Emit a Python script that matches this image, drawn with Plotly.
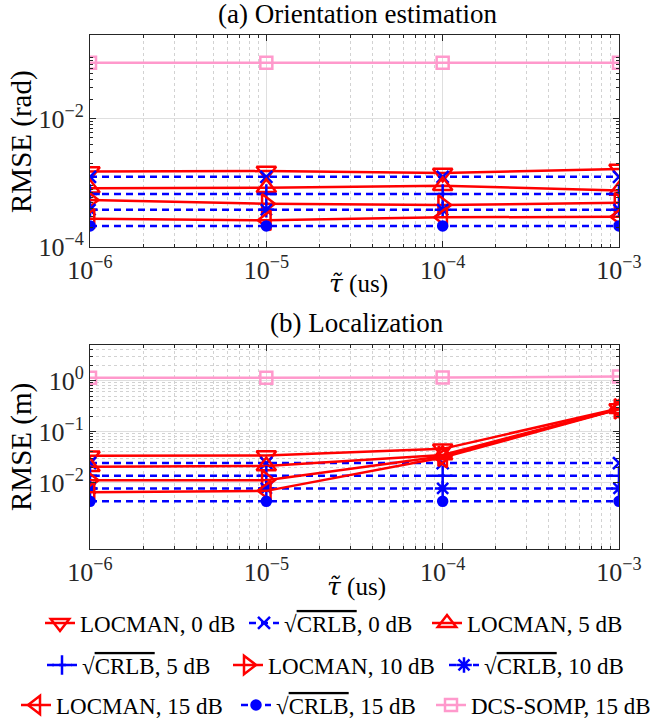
import plotly.graph_objects as go

# Delay spread values (x axis)
tau = [1e-6, 1e-5, 1e-4, 1e-3]
tau_ticks = ["10<sup>−6</sup>", "10<sup>−5</sup>", "10<sup>−4</sup>", "10<sup>−3</sup>"]

# (a) Orientation RMSE (rad)
ori_locman_0 = [1.50e-3, 1.52e-3, 1.42e-3, 1.64e-3]
ori_crlb_0 = [1.24e-3, 1.24e-3, 1.24e-3, 1.24e-3]
ori_locman_5 = [8.2e-4, 8.4e-4, 9.0e-4, 7.6e-4]
ori_crlb_5 = [6.7e-4, 6.7e-4, 6.7e-4, 6.7e-4]
ori_locman_10 = [5.4e-4, 4.7e-4, 4.5e-4, 4.9e-4]
ori_crlb_10 = [3.8e-4, 3.8e-4, 3.8e-4, 3.8e-4]
ori_locman_15 = [2.75e-4, 2.6e-4, 2.9e-4, 2.95e-4]
ori_crlb_15 = [2.13e-4, 2.13e-4, 2.13e-4, 2.13e-4]
ori_dcs_15 = [0.074, 0.074, 0.074, 0.074]

# (b) Localization RMSE (m)
loc_locman_0 = [0.0335, 0.034, 0.046, 0.285]
loc_crlb_0 = [0.0242, 0.0242, 0.0242, 0.0242]
loc_locman_5 = [0.0206, 0.0212, 0.035, 0.28]
loc_crlb_5 = [0.0136, 0.0136, 0.0136, 0.0136]
loc_locman_10 = [0.0111, 0.0112, 0.033, 0.28]
loc_crlb_10 = [0.0077, 0.0077, 0.0077, 0.0077]
loc_locman_15 = [0.0065, 0.0069, 0.031, 0.275]
loc_crlb_15 = [0.0043, 0.0043, 0.0043, 0.0043]
loc_dcs_15 = [1.14, 1.14, 1.15, 1.2]

RED = "rgb(255,0,0)"
BLUE = "rgb(0,0,255)"
PINK = "rgb(255,153,204)"
SQRT_CRLB = "√<span style='text-decoration:overline'>CRLB</span>"
FONT = "Liberation Serif"
TAU = "<span style='font-family:DejaVu Serif'><i>τ̃</i></span>"

W, H = 655, 727
def px_x(v):
    return v / W
def px_y(v):
    return 1 - v / H

# name, ori, loc, colour, dash, symbol, size, legend slot (left px, row centre px)
series = [
    ("LOCMAN, 0 dB", ori_locman_0, loc_locman_0, RED, "solid", "triangle-down-open", 17, (45, 623)),
    (SQRT_CRLB + ", 0 dB", ori_crlb_0, loc_crlb_0, BLUE, "dash", "x-thin-open", 12, (249, 623)),
    ("LOCMAN, 5 dB", ori_locman_5, loc_locman_5, RED, "solid", "triangle-up-open", 17, (432, 623)),
    (SQRT_CRLB + ", 5 dB", ori_crlb_5, loc_crlb_5, BLUE, "dash", "cross-thin-open", 14, (47, 665)),
    ("LOCMAN, 10 dB", ori_locman_10, loc_locman_10, RED, "solid", "triangle-right-open", 17, (233, 665)),
    (SQRT_CRLB + ", 10 dB", ori_crlb_10, loc_crlb_10, BLUE, "dash", "asterisk-open", 13, (449, 665)),
    ("LOCMAN, 15 dB", ori_locman_15, loc_locman_15, RED, "solid", "triangle-left-open", 17, (21, 705)),
    (SQRT_CRLB + ", 15 dB", ori_crlb_15, loc_crlb_15, BLUE, "dash", "circle", 9, (241, 705)),
    ("DCS-SOMP, 15 dB", ori_dcs_15, loc_dcs_15, PINK, "solid", "square-open", 12, (436, 705)),
]

fig = go.Figure()
legends = {}
for i, (name, ori, loc, col, dash, sym, size, slot) in enumerate(series):
    leg = "legend" if i == 0 else f"legend{i + 1}"
    line = dict(color=col, width=2.5, dash="7px,5px" if dash == "dash" else "solid")
    marker = dict(symbol=sym, size=size, color=col, line=dict(color=col, width=2.5))
    fig.add_trace(go.Scatter(x=tau, y=ori, name=name, mode="lines+markers", line=line,
                             marker=marker, xaxis="x", yaxis="y", legend=leg, showlegend=True))
    fig.add_trace(go.Scatter(x=tau, y=loc, name=name, mode="lines+markers", line=line,
                             marker=marker, xaxis="x2", yaxis="y2", showlegend=False))
    legends[leg] = dict(orientation="h", xanchor="left", x=px_x(slot[0] - 5),
                        yanchor="middle", y=px_y(slot[1]), borderwidth=0,
                        bgcolor="rgba(0,0,0,0)", itemwidth=30,
                        font=dict(family=FONT, size=23, color="black"))

x_minor = [m * 10 ** e for e in (-6, -5, -4) for m in range(2, 10)]
axis_common = dict(
    type="log", automargin=False, showline=True, linecolor="rgb(38,38,38)", linewidth=1,
    mirror="ticks", ticks="inside", ticklen=6, tickcolor="rgb(38,38,38)",
    showgrid=True, gridcolor="rgb(223,223,223)", gridwidth=1, zeroline=False,
    tickfont=dict(family=FONT, size=26, color="rgb(38,38,38)"),
)
xaxis = dict(axis_common, range=[-6, -3], tickvals=tau, ticktext=tau_ticks,
             minor=dict(tickvals=x_minor, ticks="inside", ticklen=3, tickcolor="rgb(38,38,38)",
                        showgrid=True, gridcolor="rgb(210,210,210)", griddash="dot", gridwidth=1))

y1_minor = [m * 10 ** e for e in (-4, -3, -2, -1) for m in range(2, 10) if m * 10 ** e <= 0.2]
y2_minor = [m * 10 ** e for e in (-2, -1, 0) for m in range(2, 10) if m * 10 ** e <= 5]

fig.update_layout(
    width=W, height=H, margin=dict(l=0, r=0, t=0, b=0, autoexpand=False),
    paper_bgcolor="white", plot_bgcolor="white",
    font=dict(family=FONT, size=18, color="black"),
    xaxis=dict(xaxis, domain=[px_x(90), px_x(619)], anchor="y"),
    yaxis=dict(axis_common, domain=[px_y(247), px_y(35)], anchor="x",
               range=[-4, -0.699], tickvals=[1e-4, 1e-2],
               ticktext=["10<sup>−4</sup>", "10<sup>−2</sup>"],
               minor=dict(tickvals=y1_minor, ticks="inside", ticklen=3, tickcolor="rgb(38,38,38)",
                          showgrid=False)),
    xaxis2=dict(xaxis, domain=[px_x(90), px_x(619)], anchor="y2"),
    yaxis2=dict(axis_common, domain=[px_y(549), px_y(345)], anchor="x2",
                range=[-3.301, 0.699], tickvals=[1e-2, 1e-1, 1],
                ticktext=["10<sup>−2</sup>", "10<sup>−1</sup>", "10<sup>0</sup>"],
                minor=dict(tickvals=y2_minor, ticks="inside", ticklen=3, tickcolor="rgb(38,38,38)",
                           showgrid=True, gridcolor="rgb(210,210,210)", griddash="dot", gridwidth=1)),
    **legends,
)

annotations = [
    ("(a) Orientation estimation", 357, 14, 0, 27),
    ("(b) Localization", 357, 323, 0, 27),
    (TAU + " (us)", 358, 283, 0, 25),
    (TAU + " (us)", 356, 586, 0, 25),
    ("RMSE (rad)", 21, 142, -90, 29),
    ("RMSE (m)", 21, 447, -90, 29),
]
for text, x, y, ang, size in annotations:
    fig.add_annotation(text=text, x=px_x(x), y=px_y(y), xref="paper", yref="paper",
                       xanchor="center", yanchor="middle", showarrow=False, textangle=ang,
                       font=dict(family=FONT, size=size, color="black"))

fig.write_html("out.html")
